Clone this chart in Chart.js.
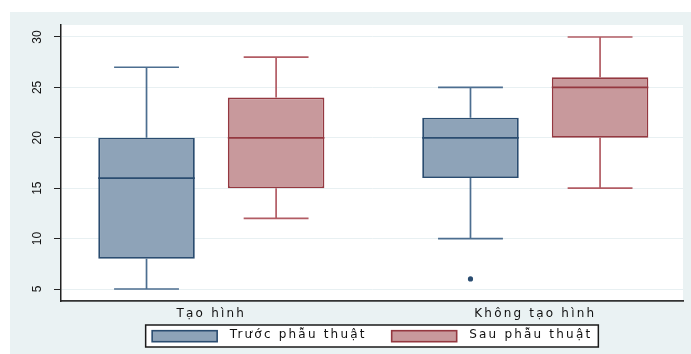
<!DOCTYPE html>
<html>
<head>
<meta charset="utf-8">
<script src="https://cdn.jsdelivr.net/npm/chart.js@4.4.1/dist/chart.umd.min.js"></script>
<style>
  html, body { margin: 0; padding: 0; background: #ffffff; }
  #chart { display: block; }
</style>
</head>
<body>
<canvas id="chart" width="691" height="354"></canvas>
<script>
// Categories, series and y-axis ticks
const categories = ['Tạo hình', 'Không tạo hình'];
const seriesNames = ['Trước phẫu thuật', 'Sau phẫu thuật'];
const yTicks = [5, 10, 15, 20, 25, 30];

// Box-plot summaries per category: lower whisker, Q1, median, Q3, upper whisker, outliers
const beforeLow = [5, 10];
const beforeQ1 = [8, 16];
const beforeMedian = [16, 20];
const beforeQ3 = [20, 22];
const beforeHigh = [27, 25];
const beforeOutliers = [[], [6]];

const afterLow = [12, 15];
const afterQ1 = [15, 20];
const afterMedian = [20, 25];
const afterQ3 = [24, 26];
const afterHigh = [28, 30];
const afterOutliers = [[], []];

// Styling
const BG = 'rgb(234,242,243)';
const GRID = 'rgb(232,240,242)';
const NAVY_FILL = 'rgb(142,163,184)';
const NAVY_LINE = 'rgb(42,76,112)';
const NAVY_WHISKER = 'rgb(76,110,144)';
const MAROON_FILL = 'rgb(200,153,156)';
const MAROON_LINE = 'rgb(148,56,64)';
const MAROON_WHISKER = 'rgb(178,92,100)';
const TEXT_FONT = 'DejaVu Sans';
const SPACING = '2.2px';

// x position of a box: boxes of one category sit side by side, categories apart
const slot = (cat, series) => cat * 2.5 + 1 + series;

function boxDataset(label, series, q1, q3, low, high, med, fill, line, whisker) {
  return {
    type: 'bar',
    label: label,
    data: q1.map((v, i) => ({ x: slot(i, series), y: [v, q3[i]] })),
    whiskerLow: low,
    whiskerHigh: high,
    median: med,
    whiskerColor: whisker,
    backgroundColor: fill,
    borderColor: line,
    borderWidth: 1.8,
    borderSkipped: false,
    grouped: false,
    categoryPercentage: 1,
    barPercentage: 0.745
  };
}

function outlierDataset(label, series, outliers, color) {
  const pts = [];
  outliers.forEach((list, i) => list.forEach(v => pts.push({ x: slot(i, series), y: v })));
  return {
    type: 'scatter',
    label: label,
    data: pts,
    pointRadius: 2.6,
    pointStyle: 'circle',
    backgroundColor: color,
    borderWidth: 0
  };
}

const datasets = [
  boxDataset(seriesNames[0], 0, beforeQ1, beforeQ3, beforeLow, beforeHigh, beforeMedian, NAVY_FILL, NAVY_LINE, NAVY_WHISKER),
  boxDataset(seriesNames[1], 1, afterQ1, afterQ3, afterLow, afterHigh, afterMedian, MAROON_FILL, MAROON_LINE, MAROON_WHISKER),
  outlierDataset(seriesNames[0], 0, beforeOutliers, NAVY_LINE),
  outlierDataset(seriesNames[1], 1, afterOutliers, MAROON_LINE)
];

// Panel backgrounds: light outer frame, white plot region
const panelPlugin = {
  id: 'panel',
  beforeDraw(chart) {
    const { ctx, width, height, chartArea: a } = chart;
    ctx.letterSpacing = '0px';
    ctx.save();
    ctx.fillStyle = '#ffffff';
    ctx.fillRect(0, 0, width, height);
    ctx.fillStyle = BG;
    ctx.fillRect(10, 12, width - 10, height - 12);
    ctx.fillStyle = '#ffffff';
    ctx.fillRect(a.left, a.top, a.right - a.left, a.bottom - a.top);
    ctx.restore();
  }
};

// Whiskers, caps and medians drawn from each box's summary values
const boxPlugin = {
  id: 'boxes',
  beforeDatasetsDraw(chart) {
    const { ctx } = chart;
    const yScale = chart.scales.y;
    chart.data.datasets.forEach((ds, di) => {
      if (ds.type !== 'bar') return;
      const meta = chart.getDatasetMeta(di);
      ctx.save();
      ctx.strokeStyle = ds.whiskerColor;
      ctx.lineWidth = 1.7;
      meta.data.forEach((el, i) => {
        const half = el.width * 0.336;
        const yLow = yScale.getPixelForValue(ds.whiskerLow[i]);
        const yHigh = yScale.getPixelForValue(ds.whiskerHigh[i]);
        const yQ1 = yScale.getPixelForValue(ds.data[i].y[0]);
        const yQ3 = yScale.getPixelForValue(ds.data[i].y[1]);
        ctx.beginPath();
        ctx.moveTo(el.x, yQ3); ctx.lineTo(el.x, yHigh);
        ctx.moveTo(el.x - half, yHigh); ctx.lineTo(el.x + half, yHigh);
        ctx.moveTo(el.x, yQ1); ctx.lineTo(el.x, yLow);
        ctx.moveTo(el.x - half, yLow); ctx.lineTo(el.x + half, yLow);
        ctx.stroke();
      });
      ctx.restore();
    });
  },
  afterDatasetsDraw(chart) {
    const { ctx } = chart;
    const yScale = chart.scales.y;
    chart.data.datasets.forEach((ds, di) => {
      if (ds.type !== 'bar') return;
      const meta = chart.getDatasetMeta(di);
      ctx.save();
      ctx.strokeStyle = ds.borderColor;
      ctx.lineWidth = 1.8;
      meta.data.forEach((el, i) => {
        const y = yScale.getPixelForValue(ds.median[i]);
        ctx.beginPath();
        ctx.moveTo(el.x - el.width / 2, y);
        ctx.lineTo(el.x + el.width / 2, y);
        ctx.stroke();
      });
      ctx.restore();
    });
    // category labels and legend text are drawn after this point
    ctx.letterSpacing = SPACING;
  }
};

// Framed legend below the x axis
const legendPlugin = {
  id: 'framedLegend',
  afterDraw(chart) {
    const { ctx, chartArea: a } = chart;
    const boxes = chart.data.datasets.filter(ds => ds.type === 'bar');
    ctx.save();
    ctx.letterSpacing = SPACING;
    ctx.font = '12px "' + TEXT_FONT + '"';
    const padL = 6.5, padR = 6, sw = 65, sh = 11, gap = 12.5, itemGap = 25;
    const widths = boxes.map(ds => ctx.measureText(ds.label).width);
    let total = padL + padR;
    widths.forEach((w, i) => { total += sw + gap + w + (i > 0 ? itemGap : 0); });
    const left = (a.left + a.right) / 2 - total / 2;
    const top = a.bottom + 24;
    const h = 22;
    ctx.fillStyle = '#ffffff';
    ctx.fillRect(left, top, total, h);
    ctx.strokeStyle = '#1a1a1a';
    ctx.lineWidth = 1.5;
    ctx.strokeRect(left, top, total, h);
    let x = left + padL;
    boxes.forEach((ds, i) => {
      if (i > 0) x += itemGap;
      ctx.fillStyle = ds.backgroundColor;
      ctx.fillRect(x, top + 5.7, sw, sh);
      ctx.strokeStyle = ds.borderColor;
      ctx.lineWidth = 1.6;
      ctx.strokeRect(x, top + 5.7, sw, sh);
      x += sw + gap;
      ctx.fillStyle = '#111111';
      ctx.textBaseline = 'alphabetic';
      ctx.textAlign = 'left';
      ctx.fillText(ds.label, x, top + 13);
      x += widths[i];
    });
    ctx.restore();
    ctx.letterSpacing = '0px';
  }
};

new Chart(document.getElementById('chart'), {
  type: 'bar',
  data: { datasets: datasets },
  plugins: [panelPlugin, boxPlugin, legendPlugin],
  options: {
    responsive: false,
    animation: false,
    devicePixelRatio: 1,
    layout: { padding: { left: 10, top: 25, right: 8, bottom: 29 } },
    plugins: {
      legend: { display: false },
      tooltip: { enabled: false }
    },
    scales: {
      x: {
        type: 'linear',
        offset: false,
        min: 0.34,
        max: 5.14,
        afterBuildTicks: s => { s.ticks = categories.map((c, i) => ({ value: slot(i, 0.5) })); },
        afterFit: s => { s.height = 24; },
        grid: { display: false, drawTicks: false, offset: false },
        border: { display: true, color: '#333333', width: 1.8 },
        ticks: {
          z: 1,
          padding: 5.5,
          autoSkip: false,
          maxRotation: 0,
          color: '#111111',
          font: { family: TEXT_FONT, size: 12 },
          callback: (v, i) => categories[i]
        }
      },
      y: {
        type: 'linear',
        min: 3.81,
        max: 31.19,
        afterBuildTicks: s => { s.ticks = yTicks.map(v => ({ value: v })); },
        afterFit: s => { s.width = 51; },
        grid: { color: GRID, lineWidth: 1, drawTicks: true, tickLength: 7, tickColor: '#222222', tickWidth: 1 },
        border: { display: true, color: '#222222', width: 1.5 },
        ticks: {
          minRotation: 90,
          maxRotation: 90,
          crossAlign: 'center',
          padding: 9.3,
          color: '#111111',
          font: { family: 'Liberation Sans', size: 12 }
        }
      }
    }
  }
});
</script>
</body>
</html>
